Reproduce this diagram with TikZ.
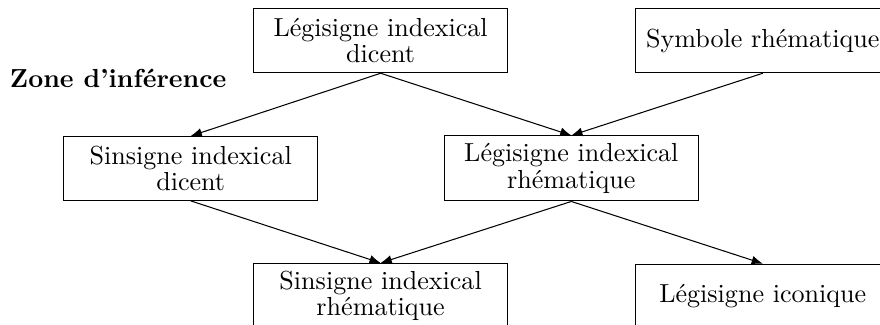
\documentclass[tikz,border=0pt]{standalone}
\usetikzlibrary{arrows.meta}

\begin{document}
\begin{tikzpicture}[
		sign/.style={draw, align=center, text width=3.2cm, minimum width=3.42cm, minimum height=0.86cm, inner sep=3pt, font=\fontsize{10}{10}\selectfont},
		infer/.style={-{Latex[length=1.5mm, width=1.2mm]}},
	]
		\clip (0,0) rectangle (11.86,-4.38);

		\node[sign] (ldicent) at (5.13,-0.55) {Légisigne indexical\\dicent};
		\node[sign] (symbole) at (10.28,-0.55) {Symbole rhématique};
		\node[sign] (sdicent) at (2.57,-2.27) {Sinsigne indexical\\dicent};
		\node[sign] (lrhem) at (7.70,-2.27) {Légisigne indexical\\rhématique};
		\node[sign] (srhem) at (5.13,-3.99) {Sinsigne indexical\\rhématique};
		\node[sign] (licon) at (10.28,-3.99) {Légisigne iconique};

		\node[anchor=west, font=\bfseries] (zone) at (0.01,-1.05) {Zone d'inférence};

		\draw[infer] (ldicent.south) -- (sdicent.north);
		\draw[infer] (ldicent.south) -- (lrhem.north);
		\draw[infer] (symbole.south) -- (lrhem.north);
		\draw[infer] (sdicent.south) -- (srhem.north);
		\draw[infer] (lrhem.south) -- (srhem.north);
		\draw[infer] (lrhem.south) -- (licon.north);
\end{tikzpicture}
\end{document}
